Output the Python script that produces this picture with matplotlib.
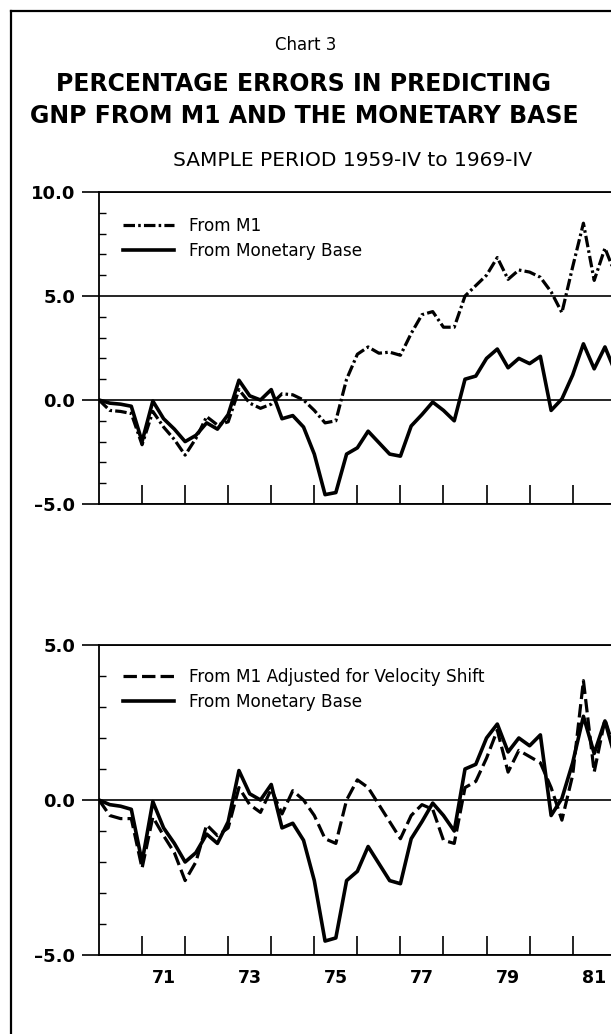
import numpy as np
import matplotlib
matplotlib.use("Agg")
from matplotlib import pyplot as plt
from matplotlib.lines import Line2D
from matplotlib.ticker import MultipleLocator, FixedLocator, NullFormatter, FixedFormatter

plt.rcParams['font.family'] = 'DejaVu Sans'

# quarterly errors, 1970-I (start of simulation, error 0) onwards
start_year = 1970
from_m1 = [0, -0.5, -0.55, -0.65, -2.15, -0.55, -1.3, -1.9, -2.65, -1.85,
           -0.8, -1.2, -1.05, 0.5, -0.15, -0.4, -0.2, 0.3, 0.25, 0.0,
           -0.5, -1.1, -1.0, 1.0, 2.2, 2.55, 2.25, 2.3, 2.15, 3.2,
           4.1, 4.25, 3.5, 3.5, 5.0, 5.5, 6.0, 6.85, 5.8, 6.25,
           6.15, 5.9, 5.2, 4.2, 6.4, 8.5, 5.75, 7.3, 6.0]
from_base = [0, -0.15, -0.2, -0.3, -2.0, -0.05, -0.9, -1.4, -2.0, -1.7,
             -1.1, -1.4, -0.7, 0.95, 0.2, 0.0, 0.5, -0.9, -0.75, -1.3,
             -2.6, -4.55, -4.45, -2.6, -2.3, -1.5, -2.05, -2.6, -2.7, -1.25,
             -0.7, -0.1, -0.5, -1.0, 1.0, 1.15, 2.0, 2.45, 1.55, 2.0,
             1.75, 2.1, -0.5, 0.05, 1.2, 2.7, 1.5, 2.55, 1.3]
from_m1_adj = [0, -0.5, -0.6, -0.6, -2.2, -0.55, -1.15, -1.7, -2.6, -2.0,
               -0.8, -1.15, -0.9, 0.4, -0.15, -0.4, 0.35, -0.45, 0.3, 0.0,
               -0.5, -1.25, -1.4, 0.0, 0.65, 0.4, -0.15, -0.7, -1.25, -0.5,
               -0.15, -0.3, -1.3, -1.4, 0.4, 0.6, 1.35, 2.25, 0.9, 1.6,
               1.4, 1.2, 0.4, -0.65, 0.8, 3.85, 0.9, 2.6, 1.5]

year_ticks = list(range(1971, 1983))
year_labels = ['71', '73', '75', '77', '79', '81']
label_pos = [1971.5, 1973.5, 1975.5, 1977.5, 1979.5, 1981.5]

x = start_year + np.arange(len(from_base)) / 4.0

W, H = 611, 1034
fig = plt.figure(figsize=(W / 100, H / 100), dpi=100)

x_left = 99
x_right_val = start_year + (W - x_left) / 43.06


def make_axes(top_px, bot_px):
    return fig.add_axes([x_left / W, 1 - bot_px / H, (W - x_left) / W, (bot_px - top_px) / H])


def style_axes(ax, ylo, yhi, show_labels):
    ax.set_xlim(start_year, x_right_val)
    ax.set_ylim(ylo, yhi)
    ax.spines['right'].set_visible(False)
    for s in ['left', 'top', 'bottom']:
        ax.spines[s].set_linewidth(1.3)
    ax.yaxis.set_major_locator(MultipleLocator(5))
    ax.yaxis.set_minor_locator(MultipleLocator(1))
    ax.yaxis.set_major_formatter(plt.FuncFormatter(lambda v, p: ('%.1f' % v).replace('-', '\u2013')))
    ax.tick_params(axis='y', which='major', direction='out', length=12, width=1.2, pad=5,
                   labelsize=13)
    ax.tick_params(axis='y', which='minor', direction='in', length=5, width=1.0)
    for lab in ax.get_yticklabels():
        lab.set_fontweight('bold')
    ax.xaxis.set_major_locator(FixedLocator(year_ticks))
    ax.xaxis.set_major_formatter(NullFormatter())
    ax.tick_params(axis='x', which='major', direction='in', length=14, width=1.2)
    if show_labels:
        ax.xaxis.set_minor_locator(FixedLocator(label_pos))
        ax.xaxis.set_minor_formatter(FixedFormatter(year_labels))
        ax.tick_params(axis='x', which='minor', length=0, pad=10, labelsize=12.5)
        for lab in ax.get_xticklabels(minor=True):
            lab.set_fontweight('bold')
    else:
        ax.tick_params(axis='x', which='minor', length=0)
    for v in range(int(ylo), int(yhi) + 1, 5):
        ax.axhline(v, color='black', lw=1.2, zorder=1)


# top panel
ax1 = make_axes(192, 504)
style_axes(ax1, -5, 10, False)
ax1.plot(x, from_m1, color='black', lw=2.3, dashes=(3.6, 1.0, 0.8, 1.0), label='From M1',
         zorder=3)
ax1.plot(x, from_base, color='black', lw=2.6, label='From Monetary Base', zorder=3)
ax1.legend(loc='upper left', bbox_to_anchor=(24 / 512, 0.92), frameon=False, fontsize=12.2,
           handlelength=3.0, handletextpad=0.9, labelspacing=0.4, borderpad=0, borderaxespad=0)

# bottom panel
ax2 = make_axes(645, 955)
style_axes(ax2, -5, 5, True)
ax2.plot(x, from_m1_adj, color='black', lw=2.3, dashes=(4.2, 1.6),
         label='From M1 Adjusted for Velocity Shift', zorder=3)
ax2.plot(x, from_base, color='black', lw=2.6, label='From Monetary Base', zorder=3)
ax2.legend(loc='upper left', bbox_to_anchor=(24 / 512, 0.925), frameon=False, fontsize=12.2,
           handlelength=3.0, handletextpad=0.9, labelspacing=0.4, borderpad=0, borderaxespad=0)

# titles
fig.text(306 / W, 1 - 45 / H, 'Chart 3', ha='center', va='center', fontsize=12)
fig.text(304 / W, 1 - 84 / H, 'PERCENTAGE ERRORS IN PREDICTING', ha='center', va='center',
         fontsize=17, fontweight='bold')
fig.text(304 / W, 1 - 116 / H, 'GNP FROM M1 AND THE MONETARY BASE', ha='center', va='center',
         fontsize=17, fontweight='bold')
fig.text(353 / W, 1 - 160 / H, 'SAMPLE PERIOD 1959-IV to 1969-IV', ha='center', va='center',
         fontsize=14.5)

# page frame
fig.add_artist(Line2D([11 / W, 11 / W], [0, 1 - 11 / H], color='black', lw=1.6))
fig.add_artist(Line2D([11 / W, 1], [1 - 11 / H, 1 - 11 / H], color='black', lw=1.6))

fig.savefig('out.png', dpi=100)
